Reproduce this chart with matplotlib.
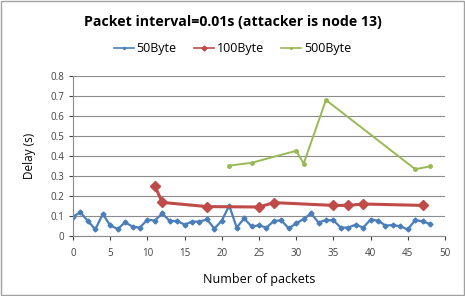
import matplotlib.pyplot as plt

# data
x_50 = list(range(0, 49))
y_50 = [0.097, 0.118, 0.075, 0.033, 0.110, 0.053, 0.035, 0.068, 0.047, 0.042,
        0.082, 0.077, 0.113, 0.075, 0.075, 0.057, 0.072, 0.072, 0.083, 0.037,
        0.077, 0.152, 0.042, 0.088, 0.048, 0.053, 0.042, 0.075, 0.078, 0.038,
        0.063, 0.085, 0.113, 0.067, 0.080, 0.078, 0.042, 0.042, 0.057, 0.042,
        0.082, 0.077, 0.052, 0.055, 0.048, 0.033, 0.080, 0.073, 0.060]

x_100 = [11, 12, 18, 25, 27, 35, 37, 39, 47]
y_100 = [0.250, 0.168, 0.147, 0.145, 0.167, 0.153, 0.153, 0.160, 0.153]

x_500 = [21, 24, 30, 31, 34, 46, 48]
y_500 = [0.352, 0.366, 0.426, 0.362, 0.680, 0.334, 0.348]

x_ticks = list(range(0, 51, 5))
y_ticks = [0, 0.1, 0.2, 0.3, 0.4, 0.5, 0.6, 0.7, 0.8]
y_tick_labels = ['0', '0.1', '0.2', '0.3', '0.4', '0.5', '0.6', '0.7', '0.8']


def main():
    plt.rcParams['font.family'] = ['Open Sans', 'DejaVu Sans']
    fig = plt.figure(figsize=(4.65, 2.96), dpi=100)
    ax = fig.add_axes([73 / 465, 60 / 296, 372 / 465, 160 / 296])

    ax.plot(x_50, y_50, color='#4A7EBB', lw=1.6, marker='D', ms=2.5,
            label='50Byte')
    ax.plot(x_100, y_100, color='#BE4B48', lw=2.2, marker='D', ms=5,
            label='100Byte')
    ax.plot(x_500, y_500, color='#98B954', lw=1.4, marker='o', ms=2.5,
            label='500Byte')

    ax.set_xlim(0, 50)
    ax.set_ylim(0, 0.8)
    ax.set_xticks(x_ticks)
    ax.set_yticks(y_ticks)
    ax.set_yticklabels(y_tick_labels)
    ax.tick_params(labelsize=7, colors='#404040', length=3, width=0.8)
    ax.tick_params(axis='x', pad=6)
    ax.grid(axis='y', color='#8c8c8c', lw=0.8)
    ax.set_axisbelow(True)
    for s in ['top', 'right']:
        ax.spines[s].set_visible(False)
    for s in ['left', 'bottom']:
        ax.spines[s].set_color('#8c8c8c')
        ax.spines[s].set_linewidth(0.8)

    ax.set_xlabel('Number of packets', fontsize=9, labelpad=10)
    ax.set_ylabel('Delay (s)', fontsize=8.5, labelpad=10)

    fig.text(0.5, 0.925, 'Packet interval=0.01s (attacker is node 13)',
             ha='center', va='center', fontsize=10.2, fontweight='bold')
    leg = fig.legend(loc='center', bbox_to_anchor=(0.5, 0.835), ncol=3,
                     frameon=False, fontsize=9, handlelength=1.6,
                     columnspacing=1.4, handletextpad=0.2, markerscale=0.5)
    for line in leg.get_lines():
        line.set_linewidth(1.2)

    # outer chart border
    fig.patches.append(plt.Rectangle((0.003, 0.005), 0.994, 0.99,
                                     transform=fig.transFigure, fill=False,
                                     edgecolor='#a0a0a0', lw=1))
    fig.savefig('out.png', dpi=100)


if __name__ == '__main__':
    main()
